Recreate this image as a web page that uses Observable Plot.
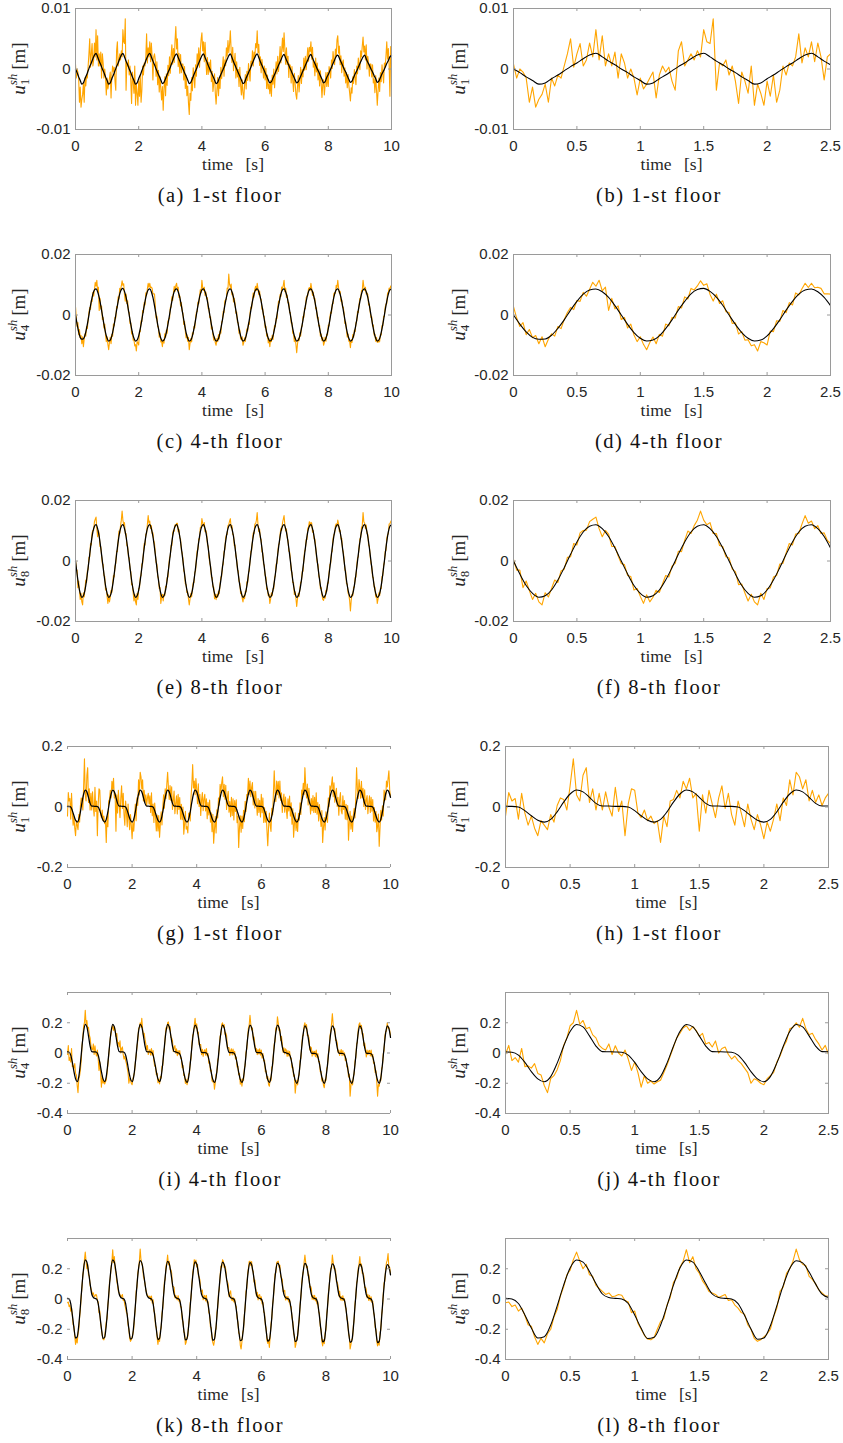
<!DOCTYPE html>
<html><head><meta charset="utf-8">
<script src="https://cdn.jsdelivr.net/npm/d3@7"></script>
<script src="https://cdn.jsdelivr.net/npm/@observablehq/plot@0.6"></script>
<style>
html,body{margin:0;padding:0;background:#fff;overflow:hidden;}
#page{position:relative;width:843px;height:1443px;background:#fff;}
#page svg.panel{position:absolute;}
#overlay{position:absolute;left:0;top:0;pointer-events:none;}
</style></head>
<body><div id="page"></div>
<script>
// ---------------- DATA (displacements in mm; sampling rates in samples per second) ----------------
const blackRate = 20;   // model curve: one value every 0.05 s
const orangeRate = 40;  // measured curve: one value every 0.025 s

// Case 1, 1-st floor
const c1Floor1Black = [
0,-0.6,-1.3,-1.9,-2.5,-2.3,-1.6,-1,-0.3,0.4,1,1.7,2.3,2.6,2,1.3,0.7,
0,-0.6,-1.3,-1.9,-2.5,-2.3,-1.6,-1,-0.3,0.4,1,1.7,2.3,2.6,2,1.3,0.7,
0,-0.6,-1.3,-1.9,-2.5,-2.3,-1.6,-1,-0.3,0.4,1,1.7,2.3,2.6,2,1.3,0.7,
0,-0.6,-1.2,-1.8,-2.4,-2.2,-1.6,-0.9,-0.3,0.3,1,1.6,2.2,2.5,1.9,1.3,0.6,
0,-0.6,-1.2,-1.8,-2.4,-2.2,-1.6,-0.9,-0.3,0.3,1,1.6,2.2,2.5,1.9,1.3,0.6,
0,-0.6,-1.2,-1.8,-2.4,-2.2,-1.5,-0.9,-0.3,0.3,1,1.6,2.2,2.5,1.9,1.2,0.6,
0,-0.6,-1.2,-1.8,-2.4,-2.2,-1.5,-0.9,-0.3,0.3,1,1.6,2.2,2.5,1.9,1.2,0.6,
0,-0.6,-1.2,-1.8,-2.3,-2.1,-1.5,-0.9,-0.3,0.3,0.9,1.5,2.1,2.4,1.8,1.2,0.6,
0,-0.6,-1.2,-1.8,-2.3,-2.1,-1.5,-0.9,-0.3,0.3,0.9,1.5,2.1,2.4,1.8,1.2,0.6,
0,-0.5,-1.1,-1.7,-2.3,-2.1,-1.4,-0.9,-0.3,0.3,0.9,1.5,2.1,2.3,1.8,1.2,0.6,
0,-0.5,-1.1,-1.7,-2.2,-2,-1.4,-0.8,-0.3,0.3,0.9,1.5,2,2.3,1.7,1.1,0.6,
0,-0.5,-1.1,-1.6,-2.2,-2,-1.4,-0.8,-0.3,0.3,0.9,1.4,2,2.2];
const c1Floor1Orange = [
0.8,-1.5,0,-0.5,-1.5,-5.5,-3,-6.3,-5,-4.2,-2.5,-5.5,-1.5,-2.8,-1,-1.5,0.5,2.5,5,0.3,2.5,4.2,0.5,1.5,4.3,2,6.5,1.5,5.5,0.5,2.5,0.5,2.8,-1.5,
2.5,1,-1.5,0,-1.5,-4.3,-1.5,-3.3,-2.5,-1.5,-0.5,-4.8,-1,0.5,-0.5,0.3,-2,-3.5,3,4.5,0.5,1.5,2.5,1.5,3,2,6.5,4.5,4.2,8.3,-3.5,1,0.5,1.5,
-1,0.5,-2,-5.7,-0.5,-2,-4,0.5,-6,-2.5,-4,-6,-2,-4.5,-1,-5.5,-3.5,0.5,-1,1,0.5,2,5.8,1,3.5,2,4.5,1.2,4.3,2,-1.8,2,2.5,1.5,
-1.2,1.2,-2.6,-0.2,-3.8,-1.3,-3.3,-5.1,-2.9,-6.8,-3.2,-1.3,-4.4,-0.8,-2.7,0.6,-1.1,2,-0.7,2.2,4,0.8,3.4,1.1,4.7,7,3.3,5,0.4,2.6,-0.7,2.4,-0.6,0.8,
0.8,-1.8,0.4,-3.2,-1,-4.4,-2.8,-5.6,-7.5,-4,-5.2,-1.4,-3.6,0.2,-1.4,-3.1,0.7,-1.2,2.5,0.7,3.5,0.3,3.1,4.9,6,3,4.5,1.2,4.4,1.6,-0.9,1.9,-0.9,1.1,
-0.5,1.5,-2.1,-0.4,-3.7,-2.3,-0.8,-4.1,-5.8,-3.5,-1.4,-4.4,-1.8,-3.2,0.3,-1.6,0.2,2,-1.2,1.5,0.5,3.5,2.1,4.7,2.7,4,6.3,3.2,1.1,3.6,-0.3,1.4,2.6,-1.5,
1.2,-1.3,-0.1,-2.9,0.3,-2.7,-4.3,-1.8,-3.9,-5,-2.7,-0.9,-3.3,-0.4,-1.9,0.9,-0.8,-2,1.3,0.5,3,0.5,2.8,1.9,4.2,3.5,6.3,2.7,4.1,0.6,2,-0.6,1.6,0.3,
-1.5,0.5,-1.8,0.1,-3.2,-1,-3.3,-2.5,-4.1,-1.9,-4.5,-1,-2.5,0,-3.1,-0.6,1.2,-0.8,2.1,-0.4,1.4,3.7,1,3,5.1,2.9,6,3.3,0.8,3.5,0.7,2.1,-1.4,0.8,
0.5,-2.3,0.4,-1.9,-3.7,-0.7,-2.3,-4.2,-5,-2.9,-1.1,-3.8,-2,0.3,-2.4,-0.1,-1.3,1.8,-0.2,2.1,-0.1,1.7,3.5,1.3,3.6,2.9,4.5,1.6,3.6,0.3,1.2,-1.1,1.8,-0.5,
1,-1.8,0,-2.8,-0.3,-2.4,-4.7,-2.5,-1.8,-4.3,-2.6,-0.6,-2.9,-0.6,-2.9,0.4,-0.3,-1.5,1.5,0.1,2.9,1.4,0.7,3.3,2.1,4.8,5.5,2.6,3.8,0.7,2.2,-0.6,1.1,1.5,
-1.2,0.2,-2.3,-0.6,-3.1,-0.9,-2.7,-3.9,-5.3,-3.1,-4,-1.3,-2.4,-0.1,-1.4,-2.6,0.5,-0.8,1.8,0.6,-0.1,3,2,3.8,5.3,2.8,3.8,1.5,4,0,2.1,0.9,-1.2,0.8,
0.8,-1.3,0.7,-2.3,-1.6,-3.9,-1.1,-3.4,-6,-3.7,-1.5,-3.7,-0.6,-2.1,0.7,-1,-2.3,1,0.3,2.1,4.5,1.6,3.4,0.7,-4.5,3.7,2.2];

// Case 1, 4-th floor
const c1Floor4Black = [
0,-3,-5.6,-7.4,-8,-7.9,-6.7,-4.4,-1.6,1.6,4.5,6.9,8.3,8.6,7.7,5.8,3.1,
0,-3.1,-5.8,-7.7,-8.6,-8.3,-6.9,-4.5,-1.6,1.6,4.5,7,8.4,8.8,7.8,5.9,3.2,
0,-3.1,-5.8,-7.7,-8.6,-8.3,-6.9,-4.5,-1.6,1.6,4.5,6.9,8.3,8.6,7.7,5.8,3.1,
0,-3.1,-5.8,-7.7,-8.6,-8.3,-6.9,-4.5,-1.6,1.6,4.5,6.9,8.3,8.6,7.7,5.8,3.1,
0,-3.1,-5.8,-7.7,-8.6,-8.3,-6.9,-4.5,-1.6,1.6,4.5,6.9,8.3,8.6,7.7,5.8,3.1,
0,-3.1,-5.8,-7.7,-8.6,-8.3,-6.9,-4.5,-1.6,1.6,4.5,6.9,8.3,8.6,7.7,5.8,3.1,
0,-3.1,-5.8,-7.7,-8.6,-8.3,-6.9,-4.5,-1.6,1.6,4.5,6.9,8.3,8.6,7.7,5.8,3.1,
0,-3.1,-5.8,-7.7,-8.6,-8.3,-6.9,-4.5,-1.6,1.6,4.5,6.9,8.3,8.6,7.7,5.8,3.1,
0,-3.1,-5.8,-7.7,-8.6,-8.3,-6.9,-4.5,-1.6,1.6,4.5,6.9,8.3,8.6,7.7,5.8,3.1,
0,-3.1,-5.8,-7.7,-8.6,-8.3,-6.9,-4.5,-1.6,1.6,4.5,6.9,8.3,8.6,7.7,5.8,3.1,
0,-3.1,-5.8,-7.7,-8.6,-8.3,-6.9,-4.5,-1.6,1.6,4.5,6.9,8.3,8.6,7.7,5.8,3.1,
0,-3.1,-5.8,-7.7,-8.6,-8.3,-6.9,-4.5,-1.6,1.6,4.5,6.9,8.3,8.6];
const c1Floor4Orange = [
2.8,-1,-3.8,-2.5,-6.5,-4.8,-7.5,-6.8,-9.5,-7.2,-10.5,-8,-6.2,-7,-3.8,-4.5,-1.5,0.8,2.5,1.8,4.8,4.5,7.5,6.2,8.5,10.8,9.5,11.5,8,9.2,1.5,5.5,2,3,
-1.5,-0.8,-4.3,-3,-6.6,-8.8,-7.2,-9.7,-11.5,-9.1,-7.3,-9.5,-6.4,-7,-3,-3.6,-0.8,-1,2.8,2.3,6,5.3,8.8,8.3,9.6,11.3,9.8,10.3,6.8,4.6,6.9,3.8,4.7,1.1,
0.8,-2.8,-2.6,-6.3,-5.5,-8.3,-8.2,-10.2,-9.8,-11.9,-8.8,-9.2,-9.9,-5.3,-5.5,-1.9,-2.1,1.5,0.8,4.1,3.3,7.3,6.6,8.7,10.5,9.1,10.5,9,9.2,8.8,7,7,6.9,3.1,
-1,-0.4,-3.9,-4,-7.3,-6,-8.9,-8.7,-10.5,-8.1,-9.3,-6.2,-7.4,-5,-6,-2.1,-1.4,-1.2,2.4,2.6,6,4.8,7.4,9.5,7.8,9.8,10.5,8.2,9.2,5.8,6.3,3,4.1,1.4,
0.5,-3.1,-2.1,-5.3,-7.6,-6.5,-8.7,-7.4,-11.5,-9.4,-7.8,-8.9,-5.9,-6.3,-3.7,-4.3,-1.1,1,1.1,4.3,3.7,6.3,8.4,7.4,11.5,9.1,8.1,9.2,6.5,7.6,5.3,5.7,2.1,2.1,
-0.8,-0.6,-4.6,-4,-6.6,-8.3,-7.2,-9.2,-10,-7.8,-8.8,-6.5,-7.9,-5.3,-6,-2.3,-1.9,1.2,0.8,4.6,5,5.3,8.9,8.7,13.5,10.1,9.1,10.2,6.7,7.3,4.3,5.5,3.6,0.6,
1,-2.4,-2.6,-6,-5,-7.8,-8.2,-7.2,-10,-9.1,-7.5,-8.7,-6.4,-4.6,-5.3,-2.6,-3.1,0.8,2.6,2.3,5,7.3,5.9,8.5,9.5,8.1,10.5,8.7,6.7,8,5.3,5.3,1.9,2.1,
-0.5,-0.4,-4.1,-3.7,-7,-6.3,-9.2,-7.9,-10.5,-7.8,-8.8,-6.7,-8.1,-5.3,-3.5,-3.9,-1.1,-1.2,2.4,4.6,4,6.8,6.1,9.2,8.8,9.8,11.5,7.7,8.9,5.8,6.6,4,4.1,0.8,
0.8,-2.6,-2.6,-6,-6.3,-8.8,-7.2,-9.7,-12.5,-9.6,-7.8,-8.5,-5.9,-7,-4,-3.6,-0.4,-0.8,2.1,2.1,5.7,6.3,6.4,8.7,9.1,8.1,10.5,8.7,6.5,7.6,5.3,5.5,2.1,2.4,
-1,-0.8,-3.6,-3.5,-7,-6.3,-8.5,-7.4,-10,-9.1,-7.3,-8.7,-6.4,-6.6,-3.3,-3.6,-0.8,1,0.6,3.6,3.7,7,7.4,7.2,9.8,9.1,11.5,9,7.2,7.8,4.6,5,2.6,2.6,
0.5,-2.8,-2.3,-5,-7.3,-6.3,-8.7,-8.7,-10.8,-8.1,-9.1,-6.5,-7.4,-5,-5.5,-2.6,-2.1,1.2,0.8,3.6,5.5,5.3,8.1,8.2,11.5,9.4,8.1,9.2,6.9,7.3,6.8,3.3,3.6,1.1,
-0.8,-0.6,-3.6,-3.3,-6.6,-6.3,-8.7,-7.4,-9.1,-8.3,-9,-8.7,-6.4,-6.6,-3.5,-3.6,-0.4,-0.5,2.6,3.6,3.7,7.3,7.4,8.9,8.3,9.6,9];

// Case 1, 8-th floor
const c1Floor8Black = [
0,-4.3,-8.1,-10.7,-12,-11.5,-9.6,-6.3,-2.2,2.2,6.3,9.6,11.5,12,10.7,8.1,4.3,
0,-4.3,-8.1,-10.7,-12,-11.5,-9.6,-6.3,-2.2,2.2,6.3,9.6,11.5,12,10.7,8.1,4.3,
0,-4.3,-8.1,-10.7,-12,-11.5,-9.6,-6.3,-2.2,2.2,6.3,9.6,11.5,12,10.7,8.1,4.3,
0,-4.3,-8.1,-10.7,-12,-11.5,-9.6,-6.3,-2.2,2.2,6.3,9.6,11.5,12,10.7,8.1,4.3,
0,-4.3,-8.1,-10.7,-12,-11.5,-9.6,-6.3,-2.2,2.2,6.3,9.6,11.5,12,10.7,8.1,4.3,
0,-4.3,-8.1,-10.7,-12,-11.5,-9.6,-6.3,-2.2,2.2,6.3,9.6,11.5,12,10.7,8.1,4.3,
0,-4.3,-8.1,-10.7,-12,-11.5,-9.6,-6.3,-2.2,2.2,6.3,9.6,11.5,12,10.7,8.1,4.3,
0,-4.3,-8.1,-10.7,-12,-11.5,-9.6,-6.3,-2.2,2.2,6.3,9.6,11.5,12,10.7,8.1,4.3,
0,-4.3,-8.1,-10.7,-12,-11.5,-9.6,-6.3,-2.2,2.2,6.3,9.6,11.5,12,10.7,8.1,4.3,
0,-4.3,-8.1,-10.7,-12,-11.5,-9.6,-6.3,-2.2,2.2,6.3,9.6,11.5,12,10.7,8.1,4.3,
0,-4.3,-8.1,-10.7,-12,-11.5,-9.6,-6.3,-2.2,2.2,6.3,9.6,11.5,12,10.7,8.1,4.3,
0,-4.3,-8.1,-10.7,-12,-11.5,-9.6,-6.3,-2.2,2.2,6.3,9.6,11.5,12];
const c1Floor8Orange = [
0.5,-3,-3,-8.8,-6.6,-9.8,-12.7,-10.7,-13.5,-14.5,-10.5,-11.9,-9.1,-6.3,-7.1,-3.3,-2.7,1.2,1.4,5.8,5.3,9.3,10.1,10.2,13,13.8,14.5,10.7,8,10.1,8.9,4.8,4.8,1.7,
-0.8,-1.2,-4.8,-5.1,-9.6,-9.1,-11.7,-14,-11.2,-13.5,-12,-9.7,-10.4,-7.6,-4.8,-5.3,-1.7,-0.8,3.2,3.1,6.8,9.9,9.1,11.7,13.5,16.5,13.5,12,12.7,9.1,9.1,5.1,4.8,1.4,
1,-2.7,-3.5,-7.8,-7.6,-10.6,-13.2,-11,-13.5,-14.5,-10.7,-12.7,-9.1,-8.9,-5.3,-4.8,-1,-0.8,2.7,5.8,5.3,8.9,9.1,12.2,15,12.5,13.2,10.7,11.7,9.1,9.3,6.8,5.8,2.7,
-0.5,-1,-5.1,-5.8,-9.1,-8.8,-14,-12,-11,-13.2,-11,-11.5,-8.4,-8.6,-5.5,-5.3,-1.7,1,1.7,5.1,5.1,9.1,10.1,9.9,12,11.5,12.5,12.5,9.7,10.4,7.6,7.3,3.5,2.7,
0.8,-3.2,-3.8,-7.5,-7.8,-10.4,-10.2,-12.5,-14.5,-12.5,-10.7,-11.9,-9.1,-7.1,-7.1,-3.8,-3.2,0.8,3.4,3.8,7.3,7.3,11.1,11.2,14,12.5,11.5,12.7,9.7,10.1,9.1,5.5,4.8,1.2,
-0.8,-1.7,-5.3,-5.5,-8.6,-8.6,-12.5,-11,-12.8,-11,-12,-9.9,-10.8,-7.6,-5.3,-5.1,-1.7,-1,3,3.8,7.5,8.6,8.8,11.7,12,13.2,14,11,11.7,8.8,8.6,5.1,5.3,1.7,
0.5,-3,-3.3,-6.8,-7.3,-10.8,-10.2,-12.3,-13.5,-11.5,-12.5,-9.9,-10.1,-6.9,-7.1,-3.8,-3.2,0.5,3.2,3.5,6.8,9.3,9.1,12.2,12.3,13.5,16,12,9.7,10.6,7.6,7.1,3.1,2.7,
-1,-1.4,-4.8,-5.3,-9.3,-9.1,-11.5,-11,-14,-12.5,-10.5,-11.5,-9.1,-9.1,-5.5,-4.8,-1,-0.8,2.7,5.3,5.8,8.9,10.8,10.2,12.5,13.8,15,12,9.9,10.6,7.6,6.8,3.3,3,
0.8,-3.2,-3.8,-7.1,-7.1,-11.1,-10.2,-12.3,-15,-12.5,-10.7,-11.7,-9.1,-7.1,-6.8,-3.5,-3.4,0.5,3.2,3.8,7.1,7.1,10.8,11.2,13,11.5,12.8,12.5,9.5,10.1,7.3,7.3,4.8,1.4,
-0.5,-1.2,-5.1,-5.8,-9.1,-8.8,-11.2,-12.7,-13,-11.5,-12.3,-9.7,-10.1,-7.3,-7.3,-3.8,-1.2,-0.8,2.7,3.3,7.5,8.6,9.1,11.7,12.3,11.5,13.5,12.3,9.7,10.1,7.3,7.5,3.8,3,
0.5,-3,-3.3,-7.5,-7.6,-10.6,-11.2,-13,-16.5,-13,-11,-11.5,-8.6,-8.6,-5.5,-5.3,-1.7,1,1.4,4.8,7.3,7.6,11.1,11.7,16,13,12.5,10.7,11.9,9.1,8.9,5.3,4.8,1.7,
-0.8,-1.7,-5.3,-5.5,-8.6,-8.6,-11.9,-11,-14,-12.5,-10.5,-11.5,-9.1,-9.1,-5.1,-4.8,-1.4,-0.5,3.2,3.5,7.5,8.6,9.1,12.2,12.3,13,13.5];

// Case 2, 1-st floor
const c2Floor1Black = [
2,2,0,-12,-29,-44,-50,-41,-16,16,43,56,50,32,12,3,3,
2,2,0,-12,-29,-44,-50,-41,-16,16,43,56,50,32,12,3,3,
2,2,0,-12,-29,-44,-50,-41,-16,16,43,56,50,32,12,3,3,
2,2,0,-12,-29,-44,-50,-41,-16,16,43,56,50,32,12,3,3,
2,2,0,-12,-29,-44,-50,-41,-16,16,43,56,50,32,12,3,3,
2,2,0,-12,-29,-44,-50,-41,-16,16,43,56,50,32,12,3,3,
2,2,0,-12,-29,-44,-50,-41,-16,16,43,56,50,32,12,3,3,
2,2,0,-12,-29,-44,-50,-41,-16,16,43,56,50,32,12,3,3,
2,2,0,-12,-29,-44,-50,-41,-16,16,43,56,50,32,12,3,3,
2,2,0,-12,-29,-44,-50,-41,-16,16,43,56,50,32,12,3,3,
2,2,0,-12,-29,-44,-50,-41,-16,16,43,56,50,32,12,3,3,
2,2,0,-12,-29,-44,-50,-41,-16,16,43,56,50,32];
const c2Floor1Orange = [
-30,48,20,28,-40,45,-20,-60,-30,-70,-95,-45,-60,-75,-25,-50,5,30,25,-10,70,159,40,20,105,130,15,60,-10,45,-10,50,0,-30,
65,-15,20,-95,10,60,55,-20,-35,-10,-45,-30,-55,-45,-117,-30,-65,20,25,55,30,85,60,95,30,45,-80,40,-20,55,10,-35,30,70,
-5,45,-25,-60,20,-20,-65,10,-40,-75,-25,-60,-105,-50,-80,-40,10,-45,30,5,90,40,115,100,60,90,20,55,15,40,5,30,45,10,
37,-18,47,-29,10,-51,13,-35,-79,-27,-79,-28,-100,-56,-16,-59,-1,40,-4,60,28,76,115,64,25,71,22,67,-8,22,53,-22,13,37,
-23,42,-8,31,-40,9,-42,0,-90,-57,-14,-73,-65,-86,-21,-19,-46,35,76,140,63,86,41,94,60,11,77,2,42,-28,23,48,-12,27,
42,-13,27,-39,15,-26,23,-50,-19,-82,-24,-120,-75,-31,-86,-9,-36,30,6,75,48,81,100,34,75,26,72,-8,32,52,-17,18,-32,32,
-28,27,-43,21,-15,24,-52,-30,-134,-67,-29,-83,-30,-71,-11,-49,19,-15,41,40,95,41,86,34,65,81,7,52,-3,52,13,-27,28,-18,
22,-33,42,-19,30,-51,-2,-50,-14,-77,-128,-68,-20,-61,-81,-4,-26,45,120,50,18,86,41,84,30,86,22,47,-18,22,43,-17,33,-8,
-38,27,-13,36,-30,14,-57,-5,-100,-57,-19,-78,-40,-81,-21,-44,14,-25,56,40,78,41,130,69,30,76,7,62,22,-23,28,-12,38,-18,
32,-18,47,-24,15,-46,8,-35,-64,-12,-117,-68,-35,-76,-16,-39,-51,30,1,70,53,76,100,34,80,16,47,62,2,32,-27,23,48,-13,
-23,37,-8,21,-40,9,-42,5,-110,-52,-14,-73,-30,-81,-26,-4,-36,35,130,60,28,91,66,29,85,31,62,2,57,-8,23,38,-22,12,
37,-18,32,-14,25,-46,-2,-50,-14,-82,-64,-23,-130,-71,-11,-44,4,-30,56,45,23,86,66,94,120,56,35];

// Case 2, 4-th floor
const c2Floor4Black = [
7,5,-14,-62,-123,-171,-190,-156,-67,45,142,189,173,113,46,9,8,
7,5,-14,-62,-123,-171,-190,-156,-67,45,142,189,173,113,46,9,8,
7,5,-14,-62,-123,-171,-190,-156,-67,45,142,189,173,113,46,9,8,
7,5,-14,-62,-123,-171,-190,-156,-67,45,142,189,173,113,46,9,8,
2,0,-19,-67,-128,-176,-195,-161,-72,40,137,184,168,108,41,4,3,
2,0,-19,-67,-128,-176,-195,-161,-72,40,137,184,168,108,41,4,3,
2,0,-19,-67,-128,-176,-195,-161,-72,40,137,184,168,108,41,4,3,
2,0,-19,-67,-128,-176,-195,-161,-72,40,137,184,168,108,41,4,3,
-3,-5,-24,-72,-133,-181,-200,-166,-77,35,132,179,163,103,36,-1,-2,
-3,-5,-24,-72,-133,-181,-200,-166,-77,35,132,179,163,103,36,-1,-2,
-3,-5,-24,-72,-133,-181,-200,-166,-77,35,132,179,163,103,36,-1,-2,
-3,-5,-24,-72,-133,-181,-200,-166,-77,35,132,179,163,103];
const c2Floor4Orange = [
-10,50,-50,-30,-60,30,-90,-85,-100,-70,-135,-145,-215,-262,-170,-150,-110,-50,50,100,180,200,282,190,215,160,170,120,100,50,30,20,60,-10,
48,0,-20,20,-40,-115,-60,-130,-226,-150,-200,-185,-205,-190,-180,-130,-80,-20,40,100,130,165,180,150,175,150,110,130,60,70,40,80,0,30,
40,-10,-40,-20,-50,-70,-100,-130,-200,-170,-180,-200,-210,-170,-150,-130,-60,-20,40,80,160,170,200,170,229,160,120,130,90,60,20,50,-10,10,
22,-14,30,-14,16,-53,-87,-83,-143,-135,-196,-174,-205,-156,-166,-88,-82,-1,25,111,167,160,200,205,158,175,103,100,81,11,34,49,-2,28,
-18,16,-10,16,-34,-33,-97,-83,-148,-145,-201,-174,-210,-186,-141,-133,-62,-36,55,116,127,185,230,165,193,130,138,55,56,56,-11,24,-22,13,
22,-14,30,-19,-4,-68,-57,-118,-113,-185,-191,-179,-240,-196,-141,-128,-47,-31,50,111,122,190,200,170,188,125,133,115,31,36,34,-16,13,28,
-13,26,-10,11,-39,-28,-92,-88,-143,-135,-206,-174,-220,-171,-181,-103,-82,4,25,101,162,185,250,190,153,165,88,105,56,11,29,-11,23,-7,
27,-14,20,-34,-4,-53,-47,-123,-118,-170,-156,-209,-220,-166,-181,-93,-87,-6,60,76,167,155,240,200,148,155,83,110,61,6,34,-6,28,18,
-23,16,-20,11,-34,-33,-97,-93,-153,-145,-265,-209,-180,-211,-156,-143,-52,-36,45,111,117,180,200,165,188,115,118,100,21,41,34,-21,13,-12,
12,-24,20,-29,-4,-58,-57,-123,-123,-185,-166,-214,-230,-176,-181,-103,-87,-6,15,111,142,195,260,190,153,160,83,85,66,6,19,-16,8,23,
-18,16,-15,1,-49,-38,-92,-88,-158,-140,-285,-214,-185,-211,-156,-138,-57,-31,60,71,152,190,200,160,183,125,128,50,66,31,-26,19,-12,13,
17,-19,20,-24,-9,-68,-62,-128,-118,-190,-285,-209,-220,-176,-181,-103,-87,-6,15,111,142,145,199,165,170,150,115];

// Case 2, 8-th floor
const c2Floor8Black = [
4,0,-30,-105,-192,-258,-250,-172,-45,92,205,258,244,182,102,33,10,
4,0,-30,-106,-194,-261,-253,-174,-45,92,205,258,244,182,102,33,10,
4,0,-31,-108,-198,-266,-258,-177,-46,90,201,253,239,178,100,32,10,
4,0,-31,-109,-200,-268,-260,-179,-47,88,197,248,234,175,98,32,10,
4,0,-32,-110,-202,-271,-263,-181,-47,87,195,245,232,173,97,31,10,
4,0,-32,-111,-204,-273,-265,-182,-48,86,193,243,229,171,96,31,9,
4,0,-32,-112,-205,-276,-268,-184,-48,86,191,240,227,169,95,31,9,
4,0,-32,-113,-207,-279,-270,-186,-49,85,189,237,224,167,94,30,9,
4,0,-33,-114,-209,-281,-273,-187,-49,84,187,235,222,166,93,30,9,
4,0,-33,-116,-211,-284,-275,-189,-50,83,185,232,220,164,92,30,9,
4,0,-33,-117,-213,-286,-278,-191,-50,82,182,230,217,162,91,29,9,
4,0,-34,-118,-215,-289,-280,-193,-50,81,180,227,215,160];
const c2Floor8Orange = [
-25,-20,-50,-40,-80,-60,-110,-170,-180,-250,-300,-260,-290,-230,-200,-120,-70,20,80,160,190,260,310,250,200,230,160,150,90,70,50,30,40,15,
20,30,25,-10,-20,-90,-80,-160,-200,-240,-265,-270,-255,-200,-150,-130,-40,10,110,140,210,250,326,240,280,200,170,120,90,50,40,30,10,20,
30,-10,-5,-40,-60,-90,-100,-170,-200,-260,-280,-270,-250,-230,-200,-120,-60,50,80,170,200,250,330,260,230,220,150,130,100,60,40,20,20,10,
19,-8,20,-27,-6,-78,-94,-176,-190,-256,-300,-258,-280,-209,-189,-94,-62,34,113,131,217,240,290,225,249,196,195,171,83,82,77,9,25,2,
-6,22,-15,-3,-52,-53,-135,-148,-217,-224,-300,-286,-253,-246,-166,-126,-27,9,97,164,210,260,235,257,212,229,158,145,127,52,51,59,-5,17,
24,-13,25,-23,-17,-89,-101,-184,-189,-266,-288,-306,-275,-208,-197,-92,-58,39,66,153,218,211,260,250,209,217,196,123,116,96,16,39,54,-3,
-11,12,-20,2,-42,-50,-127,-151,-225,-233,-306,-331,-283,-220,-204,-103,-58,48,71,161,201,248,250,222,247,190,184,112,125,75,21,44,-6,27,
29,-8,15,-33,-22,-85,-93,-172,-192,-271,-294,-269,-320,-247,-166,-129,-34,3,95,165,174,241,247,250,209,223,147,141,129,50,50,58,-6,16,
-6,17,-20,-3,-48,-51,-124,-149,-229,-243,-320,-296,-253,-244,-172,-140,-39,8,104,153,177,243,290,242,207,216,156,159,78,84,70,-2,24,-4,
24,-13,10,-33,-18,-82,-96,-180,-201,-280,-310,-269,-295,-227,-204,-101,-60,38,73,157,200,206,290,245,200,204,189,113,112,89,20,53,-6,16,
-11,22,-10,2,-53,-62,-132,-147,-228,-248,-330,-301,-268,-259,-176,-132,-30,7,107,125,202,229,280,217,232,171,172,151,76,78,64,8,29,-9,
24,-13,15,-23,-14,-88,-108,-188,-200,-280,-310,-279,-305,-226,-203,-103,-65,32,106,119,200,241,257,300,200,209,165];

// Axis ticks and domains
const xTicksFull = [0, 2, 4, 6, 8, 10];
const xTicksZoom = [0, 0.5, 1, 1.5, 2, 2.5];
const yDomainC1F1 = [-0.01, 0.01], yTicksC1F1 = [-0.01, 0, 0.01];
const yDomainC1F48 = [-0.02, 0.02], yTicksC1F48 = [-0.02, 0, 0.02];
const yDomainC2F1 = [-0.2, 0.2], yTicksC2F1 = [-0.2, 0, 0.2];
const yDomainC2F48 = [-0.4, 0.4], yTicksC2F48 = [-0.4, -0.2, 0, 0.2];

const captions = ["(a) 1-st floor","(b) 1-st floor","(c) 4-th floor","(d) 4-th floor","(e) 8-th floor","(f) 8-th floor",
                  "(g) 1-st floor","(h) 1-st floor","(i) 4-th floor","(j) 4-th floor","(k) 8-th floor","(l) 8-th floor"];
const floorIndex = ["1","4","8","1","4","8"];

// ---------------- RENDERING ----------------
const datasets = [
  {black: c1Floor1Black, orange: c1Floor1Orange, dom: yDomainC1F1, ticks: yTicksC1F1},
  {black: c1Floor4Black, orange: c1Floor4Orange, dom: yDomainC1F48, ticks: yTicksC1F48},
  {black: c1Floor8Black, orange: c1Floor8Orange, dom: yDomainC1F48, ticks: yTicksC1F48},
  {black: c2Floor1Black, orange: c2Floor1Orange, dom: yDomainC2F1, ticks: yTicksC2F1},
  {black: c2Floor4Black, orange: c2Floor4Orange, dom: yDomainC2F48, ticks: yTicksC2F48},
  {black: c2Floor8Black, orange: c2Floor8Orange, dom: yDomainC2F48, ticks: yTicksC2F48}
];
const toSeries = (arr, rate, tMax) =>
  arr.map((v, i) => ({t: i / rate, v: v / 1000})).filter(d => d.t <= tMax + 1e-9);

const page = document.getElementById("page");
const rowTop = [8, 254, 500, 746, 992, 1238];
const frameH = 121;
const boxColor = "#9a9a9a";
const textColor = "#262626";
const sansFont = "'Liberation Sans', Arial, Helvetica, sans-serif";
const serifFont = "'Liberation Serif', 'Times New Roman', serif";

const overlay = d3.create("svg").attr("id", "overlay").attr("width", 843).attr("height", 1443);

for (let row = 0; row < 6; row++) {
  const ds = datasets[row];
  for (let col = 0; col < 2; col++) {
    const tMax = col === 0 ? 10 : 2.5;
    const xTicks = col === 0 ? xTicksFull : xTicksZoom;
    const [x0, x1] = row < 3 ? (col === 0 ? [75, 391] : [513, 830]) : (col === 0 ? [67, 390] : [505, 828]);
    const top = rowTop[row];
    const W = x1 - x0;
    const mL = 58, mR = 12, mT = 4, mB = 28;
    const black = toSeries(ds.black, blackRate, tMax);
    const orange = toSeries(ds.orange, orangeRate, tMax);
    const openSides = row >= 3 && col === 0;
    const marks = [
      Plot.line(orange, {x: "t", y: "v", stroke: "#ffa500", strokeWidth: 1.1}),
      Plot.line(black, {x: "t", y: "v", stroke: "#000", strokeWidth: col === 0 ? 1.25 : 1.05, curve: "monotone-x"}),
      Plot.ruleX(xTicks, {x: d => d, insetTop: frameH - 3, stroke: boxColor}),
      Plot.ruleX(xTicks, {x: d => d, insetBottom: frameH - 3, stroke: boxColor}),
      Plot.ruleY(ds.ticks, {y: d => d, insetRight: W - 3, stroke: boxColor}),
      Plot.ruleY(ds.ticks, {y: d => d, insetLeft: W - 3, stroke: boxColor}),
      openSides ? Plot.ruleY(ds.dom, {y: d => d, stroke: boxColor}) : Plot.frame({stroke: boxColor})
    ];
    const svg = Plot.plot({
      width: W + mL + mR, height: frameH + mT + mB,
      marginLeft: mL, marginRight: mR, marginTop: mT, marginBottom: mB,
      x: {domain: [0, tMax], ticks: xTicks, tickSize: 0, tickPadding: 11, tickFormat: d => String(d), label: null},
      y: {domain: ds.dom, ticks: ds.ticks, tickSize: 0, tickPadding: 5, tickFormat: d => String(d), label: null},
      style: {display: "block", background: "transparent", maxWidth: "none", overflow: "visible",
              fontFamily: sansFont, fontSize: "15px", color: textColor},
      marks
    });
    // tick labels: MATLAB-like size
    svg.querySelectorAll("g").forEach(g => { if (g.hasAttribute("font-size")) g.setAttribute("font-size", 15); });
    svg.querySelectorAll("text").forEach(t => { t.setAttribute("font-size", 15); t.style.fontSize = "15px"; t.setAttribute("font-family", sansFont); });
    svg.classList.add("panel");
    svg.style.left = (x0 - mL) + "px";
    svg.style.top = (top - mT) + "px";
    page.appendChild(svg);

    // x-axis title
    const tl = overlay.append("text").attr("x", (x0 + x1) / 2).attr("y", top + 162)
      .attr("text-anchor", "middle").attr("font-family", serifFont).attr("font-size", 17.5).attr("fill", textColor);
    tl.append("tspan").text("time");
    tl.append("tspan").attr("dx", 8).text(" [s]");

    // y-axis title u_n^{sh} [m]
    const yx = col === 0 ? 25 : 465;
    const yl = overlay.append("text").attr("transform", `translate(${yx},${top + frameH / 2}) rotate(-90)`)
      .attr("text-anchor", "middle").attr("font-family", serifFont).attr("font-size", 19).attr("fill", textColor);
    yl.append("tspan").attr("font-style", "italic").text("u");
    yl.append("tspan").attr("font-size", 13).attr("font-style", "italic").attr("dy", -8).text("sh");
    yl.append("tspan").attr("font-size", 13).attr("dx", -11.6).attr("dy", 12).text(floorIndex[row]);
    yl.append("tspan").attr("dx", 9).attr("dy", -4).text("[m]");

    // caption
    overlay.append("text").attr("x", col === 0 ? 220 : 659).attr("y", top + 194)
      .attr("text-anchor", "middle").attr("font-family", serifFont).attr("font-size", 20.5)
      .attr("letter-spacing", "1.5px").attr("fill", "#111").text(captions[row * 2 + col]);
  }
}
page.appendChild(overlay.node());
</script>
</body></html>
